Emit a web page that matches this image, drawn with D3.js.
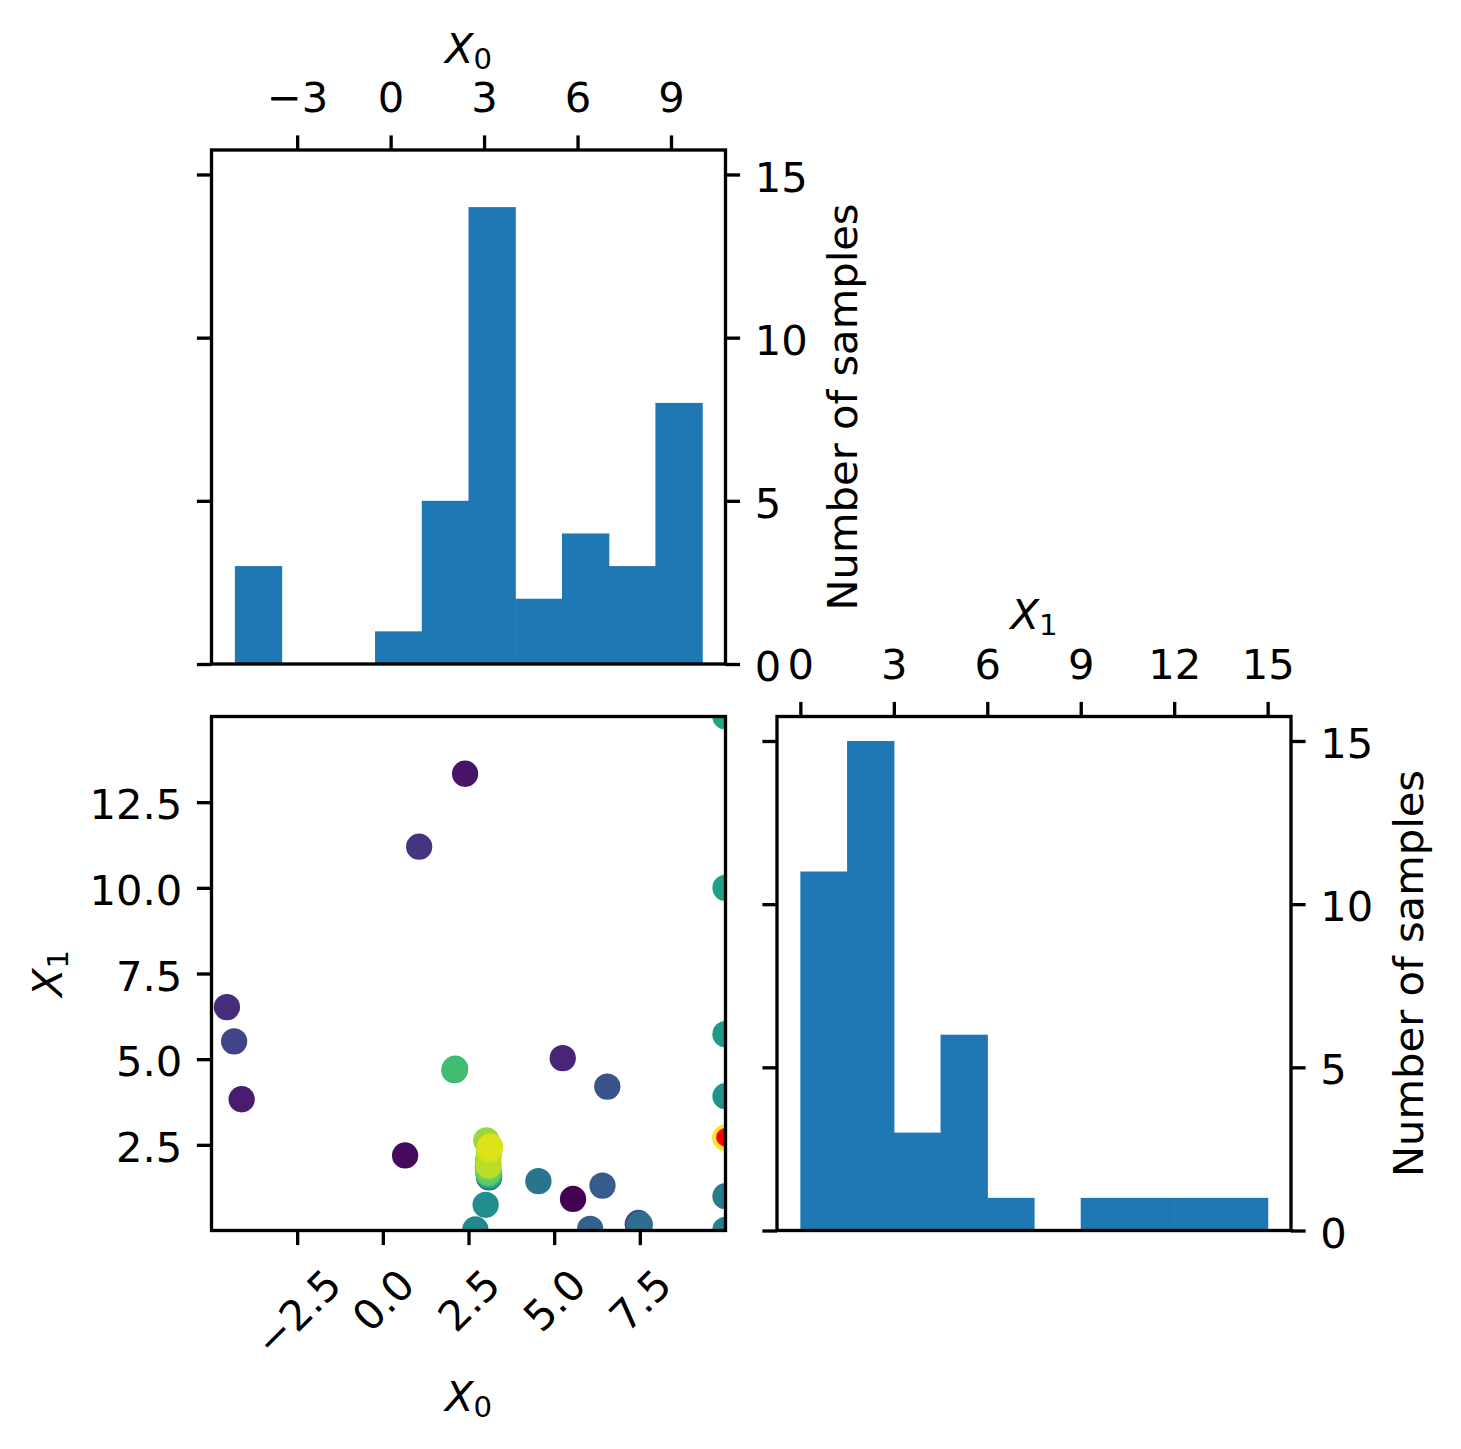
<!DOCTYPE html>
<html>
<head>
<meta charset="utf-8">
<script src="https://cdn.jsdelivr.net/npm/d3@7"></script>
<style>
body { margin: 0; background: #fff; }
text { font-family: "DejaVu Sans", sans-serif; }
</style>
</head>
<body>
<div id="wrapper"></div>
<script>
// histogram bins and counts
const x0Edges = [-5, -3.5, -2, -0.5, 1, 2.5, 4, 5.5, 7, 8.5, 10];
const x0Counts = [3, 0, 0, 1, 5, 14, 2, 4, 3, 8];
const x1Edges = [0, 1.5, 3, 4.5, 6, 7.5, 9, 10.5, 12, 13.5, 15];
const x1Counts = [11, 15, 3, 6, 1, 0, 1, 1, 1, 1];

// evaluated points, in evaluation order (colour = order)
const sampleX0 = [5.55, 0.65, 2.40, -4.12, 5.25, -4.55, 1.06, 7.44, -4.34, 7.46,
                  6.55, 6.41, 6.05, 3.10, 7.50, 4.54, 10, 10, 2.70, 3.00,
                  10, 10, 10, 10, 3.10, 2.09, 2.11, 2.10, 3.08, 3.08,
                  3.08, 3.06, 3.07, 3.02, 3.10, 3.09, 3.11, 3.13, 10, 10];
const sampleX1 = [0.92, 2.19, 13.33, 3.83, 5.03, 6.52, 11.20, 0.18, 5.52, 0.22,
                  4.20, 1.31, 0.05, 1.55, 0.17, 1.44, 1.00, 0.02, 0.03, 0.75,
                  3.92, 5.73, 10.0, 15.0, 1.60, 4.68, 4.72, 4.70, 1.72, 1.68,
                  1.76, 1.85, 2.05, 2.63, 2.25, 1.90, 2.35, 2.45, 2.70, 2.72];
const minimum = [10, 2.72];

const x0HistTicks = [-3, 0, 3, 6, 9];
const x1HistTicks = [0, 3, 6, 9, 12, 15];
const countTicks = [0, 5, 10, 15];
const scatterXTicks = [-2.5, 0, 2.5, 5, 7.5];
const scatterYTicks = [2.5, 5, 7.5, 10, 12.5];

function drawChart() {
    const fs = 41.67;      // 10pt at 300 dpi
    const lw = 3.33;       // 0.8pt
    const tick = 14.6;     // 3.5pt
    const pad = 14.6;

    let dimensions = {
        width: 1461,
        height: 1449,
        size: 514,
        topHist: { left: 211.5, top: 150 },
        scatter: { left: 211.5, top: 716.5 },
        rightHist: { left: 777, top: 716.5 }
    };
    const s = dimensions.size;

    const wrapper = d3.select('#wrapper')
        .append('svg')
        .attr('width', dimensions.width)
        .attr('height', dimensions.height)
        .style('background', '#fff');

    const minus = v => (v < 0 ? '\u2212' + Math.abs(v) : '' + v);
    const minusFixed = v => (v < 0 ? '\u2212' + Math.abs(v).toFixed(1) : v.toFixed(1));

    const styleAxis = (g, dy) => {
        g.select('.domain').remove();
        g.attr('font-size', fs).attr('font-family', '"DejaVu Sans", sans-serif');
        g.selectAll('.tick line').attr('stroke', '#000').attr('stroke-width', lw);
        g.selectAll('.tick text').attr('fill', '#000');
        if (dy !== undefined) g.selectAll('.tick text').attr('dy', dy);
    };

    const mathLabel = (parent, main, sub) => {
        const t = parent.append('text').attr('font-size', fs).attr('fill', '#000')
            .attr('text-anchor', 'middle');
        t.append('tspan').attr('font-style', 'italic').text(main);
        t.append('tspan').attr('font-size', fs * 0.7).attr('dy', 6).text(sub);
        return t;
    };

    const countScale = d3.scaleLinear().domain([0, 15.75]).range([s, 0]);

    // ---------- top-left histogram (X0) ----------
    const topG = wrapper.append('g')
        .attr('transform', `translate(${dimensions.topHist.left}, ${dimensions.topHist.top})`);
    const histX0 = d3.scaleLinear().domain([-5.75, 10.75]).range([0, s]);

    topG.selectAll('rect.bar')
        .data(x0Counts)
        .join('rect')
        .attr('class', 'bar')
        .attr('x', (d, i) => histX0(x0Edges[i]))
        .attr('width', (d, i) => histX0(x0Edges[i + 1]) - histX0(x0Edges[i]) + 0.6)
        .attr('y', d => countScale(d))
        .attr('height', d => countScale(0) - countScale(d))
        .attr('fill', '#1f77b4');

    topG.append('g').call(d3.axisTop(histX0).tickValues(x0HistTicks).tickFormat(minus)
        .tickSize(tick).tickPadding(pad)).call(g => styleAxis(g, '-0.2em'));
    topG.append('g').call(d3.axisLeft(countScale).tickValues(countTicks).tickFormat('')
        .tickSize(tick)).call(g => styleAxis(g));
    topG.append('g').attr('transform', `translate(${s},0)`)
        .call(d3.axisRight(countScale).tickValues(countTicks).tickSize(tick).tickPadding(pad))
        .call(g => styleAxis(g, '0.4em'));

    topG.append('rect').attr('width', s).attr('height', s)
        .attr('fill', 'none').attr('stroke', '#000').attr('stroke-width', lw);

    mathLabel(topG, 'X', '0').attr('x', s / 2).attr('y', 63 - dimensions.topHist.top);
    topG.append('text').attr('font-size', fs).attr('fill', '#000').attr('text-anchor', 'middle')
        .attr('transform', `translate(${857 - dimensions.topHist.left}, ${s / 2}) rotate(-90)`)
        .text('Number of samples');

    // ---------- scatter (X0 vs X1) ----------
    const scG = wrapper.append('g')
        .attr('transform', `translate(${dimensions.scatter.left}, ${dimensions.scatter.top})`);
    const scX = d3.scaleLinear().domain([-5, 10]).range([0, s]);
    const scY = d3.scaleLinear().domain([0, 15]).range([s, 0]);
    const colour = d3.scaleSequential(d3.interpolateViridis).domain([0, sampleX0.length - 1]);

    wrapper.append('defs').append('clipPath').attr('id', 'scClip')
        .append('rect').attr('width', s).attr('height', s);

    const pts = scG.append('g').attr('clip-path', 'url(#scClip)');
    pts.selectAll('circle.sample')
        .data(sampleX0.map((x, i) => ({ x: x, y: sampleX1[i], order: i })))
        .join('circle')
        .attr('class', 'sample')
        .attr('cx', d => scX(d.x))
        .attr('cy', d => scY(d.y))
        .attr('r', 13.15)
        .attr('fill', d => colour(d.order));
    pts.append('circle')
        .attr('cx', scX(minimum[0]))
        .attr('cy', scY(minimum[1]))
        .attr('r', 9.3)
        .attr('fill', '#ff0000');

    scG.append('g').call(d3.axisLeft(scY).tickValues(scatterYTicks).tickFormat(minusFixed)
        .tickSize(tick).tickPadding(pad)).call(g => styleAxis(g, '0.4em'));

    const xAx = scG.append('g').attr('transform', `translate(0,${s})`)
        .call(d3.axisBottom(scX).tickValues(scatterXTicks).tickFormat(minusFixed)
            .tickSize(tick).tickPadding(pad));
    styleAxis(xAx);
    xAx.selectAll('.tick text').each(function () {
        const t = d3.select(this);
        const w = this.getComputedTextLength();
        const h = fs * 1.164;
        const cy = tick + pad + (w + h) * Math.SQRT1_2 / 2;
        t.attr('y', null).attr('dy', '0.35em').attr('text-anchor', 'middle')
            .attr('transform', `translate(0, ${cy}) rotate(-45)`);
    });

    scG.append('rect').attr('width', s).attr('height', s)
        .attr('fill', 'none').attr('stroke', '#000').attr('stroke-width', lw);

    mathLabel(scG, 'X', '0').attr('x', s / 2).attr('y', 1411 - dimensions.scatter.top);
    mathLabel(scG, 'X', '1')
        .attr('transform', `translate(${62 - dimensions.scatter.left}, ${s / 2}) rotate(-90)`);

    // ---------- bottom-right histogram (X1) ----------
    const rG = wrapper.append('g')
        .attr('transform', `translate(${dimensions.rightHist.left}, ${dimensions.rightHist.top})`);
    const histX1 = d3.scaleLinear().domain([-0.75, 15.75]).range([0, s]);

    rG.selectAll('rect.bar')
        .data(x1Counts)
        .join('rect')
        .attr('class', 'bar')
        .attr('x', (d, i) => histX1(x1Edges[i]))
        .attr('width', (d, i) => histX1(x1Edges[i + 1]) - histX1(x1Edges[i]) + 0.6)
        .attr('y', d => countScale(d))
        .attr('height', d => countScale(0) - countScale(d))
        .attr('fill', '#1f77b4');

    rG.append('g').call(d3.axisTop(histX1).tickValues(x1HistTicks).tickFormat(minus)
        .tickSize(tick).tickPadding(pad)).call(g => styleAxis(g, '-0.2em'));
    rG.append('g').call(d3.axisLeft(countScale).tickValues(countTicks).tickFormat('')
        .tickSize(tick)).call(g => styleAxis(g));
    rG.append('g').attr('transform', `translate(${s},0)`)
        .call(d3.axisRight(countScale).tickValues(countTicks).tickSize(tick).tickPadding(pad))
        .call(g => styleAxis(g, '0.4em'));

    rG.append('rect').attr('width', s).attr('height', s)
        .attr('fill', 'none').attr('stroke', '#000').attr('stroke-width', lw);

    mathLabel(rG, 'X', '1').attr('x', s / 2).attr('y', 629 - dimensions.rightHist.top);
    rG.append('text').attr('font-size', fs).attr('fill', '#000').attr('text-anchor', 'middle')
        .attr('transform', `translate(${1423 - dimensions.rightHist.left}, ${s / 2}) rotate(-90)`)
        .text('Number of samples');
}

drawChart();
</script>
</body>
</html>
